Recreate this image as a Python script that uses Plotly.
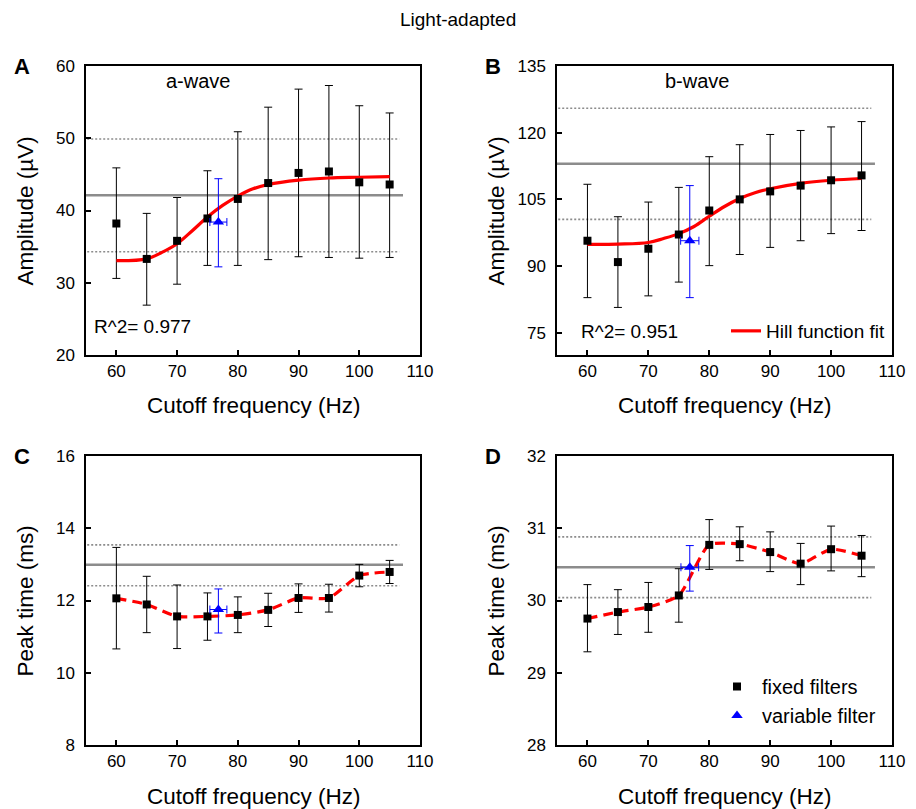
import plotly.graph_objects as go

W, H = 916, 809

# ---------------- data ----------------
freq = [60, 65, 70, 75, 80, 85, 90, 95, 100, 105]

# Panel A: a-wave amplitude (uV)
a_amp = [38.2, 33.3, 35.8, 38.9, 41.6, 43.8, 45.2, 45.4, 43.9, 43.6]
a_hi = [45.9, 39.6, 41.8, 45.5, 50.9, 54.3, 56.8, 57.3, 54.5, 53.5]
a_lo = [30.6, 26.9, 29.8, 32.4, 32.4, 33.2, 33.6, 33.5, 33.4, 33.5]
a_var = dict(x=76.8, xerr=1.4, y=38.4, hi=44.4, lo=32.2)
a_fit_x = [60, 65, 67.5, 70, 72.5, 75, 77.5, 80, 82.5, 85, 90, 95, 100, 105]
a_fit_y = [33.05, 33.3, 34.2, 35.4, 37.2, 39.1, 40.7, 42.0, 43.0, 43.6, 44.2, 44.5, 44.6, 44.7]

# Panel B: b-wave amplitude (uV)
b_amp = [95.7, 90.9, 93.9, 97.1, 102.5, 105.0, 106.8, 108.1, 109.3, 110.4]
b_hi = [108.4, 101.1, 104.4, 107.7, 114.6, 117.3, 119.6, 120.5, 121.3, 122.5]
b_lo = [82.9, 80.7, 83.3, 86.4, 90.1, 92.6, 94.2, 95.7, 97.3, 98.0]
b_var = dict(x=76.8, xerr=1.5, y=95.7, hi=108.1, lo=82.9)
b_fit_x = [60, 65, 70, 72.5, 75, 77.5, 80, 82.5, 85, 87.5, 90, 95, 100, 105]
b_fit_y = [94.9, 94.95, 95.3, 96.2, 97.3, 98.9, 101.2, 103.4, 105.2, 106.5, 107.4, 108.6, 109.3, 109.7]

# Panel C: a-wave peak time (ms)
c_pt = [12.06, 11.89, 11.56, 11.56, 11.60, 11.74, 12.07, 12.07, 12.69, 12.79]
c_hi = [13.47, 12.67, 12.43, 12.21, 12.10, 12.20, 12.46, 12.45, 13.00, 13.11]
c_lo = [10.66, 11.11, 10.67, 10.90, 11.11, 11.28, 11.67, 11.68, 12.38, 12.47]
c_var = dict(x=76.8, xerr=1.4, y=11.75, hi=12.32, lo=11.10)

# Panel D: b-wave peak time (ms)
d_pt = [29.75, 29.84, 29.91, 30.07, 30.77, 30.78, 30.67, 30.51, 30.71, 30.62]
d_hi = [30.22, 30.15, 30.25, 30.44, 31.12, 31.02, 30.95, 30.79, 31.03, 30.90]
d_lo = [29.29, 29.53, 29.56, 29.70, 30.43, 30.55, 30.40, 30.22, 30.41, 30.33]
d_var = dict(x=76.8, xerr=1.45, y=30.46, hi=30.76, lo=30.13)

# Reference (variable filter population) mean and +/- SD lines per panel
ref_mean = [42.1, 113.0, 12.99, 30.46]
ref_upper = [49.9, 125.5, 13.54, 30.88]
ref_lower = [34.3, 100.5, 12.41, 30.04]

x_ticks = [60, 70, 80, 90, 100, 110]
y_ticks = [[20, 30, 40, 50, 60], [75, 90, 105, 120, 135], [8, 10, 12, 14, 16], [28, 29, 30, 31, 32]]
y_ranges = [[20, 60], [70, 135], [8, 16], [28, 32]]
panel_letters = ["A", "B", "C", "D"]
y_titles = ["Amplitude (µV)", "Amplitude (µV)", "Peak time (ms)", "Peak time (ms)"]
x_title = "Cutoff frequency (Hz)"

FONT = "Liberation Sans, Arial, sans-serif"

# ---------------- layout geometry (pixels) ----------------
boxes = [(86, 420, 66, 355), (557, 892, 66, 355), (86, 420, 456, 745), (557, 892, 456, 745)]


def px(xp):
    return xp / W


def py(yp):
    return 1 - yp / H


def label(x, y, text, size, xanchor="center", angle=0):
    fig.add_annotation(x=px(x), y=py(y), xref="paper", yref="paper", text=text,
                       showarrow=False, textangle=angle, xanchor=xanchor, yanchor="middle",
                       font=dict(family=FONT, size=size, color="black"))


fig = go.Figure()

panels = [
    (a_amp, a_hi, a_lo, a_var),
    (b_amp, b_hi, b_lo, b_var),
    (c_pt, c_hi, c_lo, c_var),
    (d_pt, d_hi, d_lo, d_var),
]

for i, (vals, hi, lo, var) in enumerate(panels):
    n = "" if i == 0 else str(i + 1)
    xa, ya = "x" + n, "y" + n
    plus = [h - v for h, v in zip(hi, vals)]
    minus = [v - l for v, l in zip(vals, lo)]
    # error bars of fixed filters
    fig.add_trace(go.Scatter(
        x=freq, y=vals, mode="markers", xaxis=xa, yaxis=ya,
        marker=dict(size=1, color="rgba(0,0,0,0)"),
        error_y=dict(type="data", symmetric=False, array=plus, arrayminus=minus,
                     color="black", thickness=1, width=4),
        showlegend=False, hoverinfo="skip"))
    # fit / connecting line
    if i == 0:
        fig.add_trace(go.Scatter(x=a_fit_x, y=a_fit_y, mode="lines", xaxis=xa, yaxis=ya,
                                 line=dict(color="red", width=3.2, shape="spline"),
                                 showlegend=False))
    elif i == 1:
        fig.add_trace(go.Scatter(x=b_fit_x, y=b_fit_y, mode="lines", xaxis=xa, yaxis=ya,
                                 name="Hill function fit",
                                 line=dict(color="red", width=3.2, shape="spline"),
                                 showlegend=True, legend="legend"))
    else:
        fig.add_trace(go.Scatter(x=freq, y=vals, mode="lines", xaxis=xa, yaxis=ya,
                                 line=dict(color="red", width=3.2, dash="10px,6px", shape="spline",
                                           smoothing=0.6),
                                 showlegend=False))
    # fixed filter markers
    fig.add_trace(go.Scatter(
        x=freq, y=vals, mode="markers", xaxis=xa, yaxis=ya, name="fixed filters",
        marker=dict(symbol="square", size=8, color="black"),
        showlegend=(i == 3), legend="legend2"))
    # variable filter
    fig.add_trace(go.Scatter(
        x=[var["x"]], y=[var["y"]], mode="markers", xaxis=xa, yaxis=ya, name="variable filter",
        marker=dict(symbol="triangle-up", size=10, color="blue"),
        error_y=dict(type="data", symmetric=False, array=[var["hi"] - var["y"]],
                     arrayminus=[var["y"] - var["lo"]], color="blue", thickness=1, width=4),
        error_x=dict(type="data", array=[var["xerr"]], color="blue", thickness=1, width=4),
        showlegend=(i == 3), legend="legend2"))

    # reference lines
    fig.add_shape(type="line", xref=xa, yref=ya, x0=55, x1=107.2, y0=ref_mean[i], y1=ref_mean[i],
                  line=dict(color="#8c8c8c", width=2.5), layer="below")
    for v in (ref_upper[i], ref_lower[i]):
        fig.add_shape(type="line", xref=xa, yref=ya, x0=55.2, x1=106.6, y0=v, y1=v,
                      line=dict(color="#8c8c8c", width=1.6, dash="2px,2px"), layer="below")

    x0, x1, y0, y1 = boxes[i]
    axis_common = dict(showline=True, linecolor="black", linewidth=1.5, mirror=True,
                       ticks="inside", ticklen=5, tickwidth=1.5, tickcolor="black",
                       showgrid=False, zeroline=False,
                       tickfont=dict(family=FONT, size=17, color="black"))
    fig.update_layout(**{
        ("xaxis" + n): dict(domain=[px(x0), px(x1)], range=[55, 110], tickvals=x_ticks,
                            anchor=ya, **axis_common),
        ("yaxis" + n): dict(domain=[py(y1), py(y0)], range=y_ranges[i], tickvals=y_ticks[i],
                            anchor=xa, ticklabelstandoff=6, **axis_common),
    })

    # axis titles and panel letters
    label((x0 + x1) / 2, y1 + 51, x_title, 22.5)
    label(x0 - 61, (y0 + y1) / 2 + 1, y_titles[i], 22.5, angle=-90)
    label(x0 - 64, y0, "<b>" + panel_letters[i] + "</b>", 22)

# text annotations
label(458, 19, "Light-adapted", 19)
label(198, 81, "a-wave", 20)
label(697, 81, "b-wave", 20)
label(92, 327, "R^2= 0.977", 19, xanchor="left")
label(579, 331, "R^2= 0.951", 19, xanchor="left")

fig.update_layout(
    width=W, height=H, margin=dict(l=0, r=0, t=0, b=0, autoexpand=False),
    plot_bgcolor="white", paper_bgcolor="white",
    font=dict(family=FONT, color="black"),
    legend=dict(x=px(726), y=py(331), xanchor="left", yanchor="middle",
                bgcolor="rgba(0,0,0,0)", font=dict(family=FONT, size=19, color="black"),
                itemwidth=30),
    legend2=dict(x=px(712), y=py(701), xanchor="left", yanchor="middle",
                 bgcolor="rgba(0,0,0,0)", font=dict(family=FONT, size=20, color="black"),
                 itemwidth=40, tracegroupgap=0),
    showlegend=True,
)

fig.write_html("out.html", config={"displayModeBar": False},
               post_script="document.body.style.margin='0';document.body.style.overflow='hidden';")
